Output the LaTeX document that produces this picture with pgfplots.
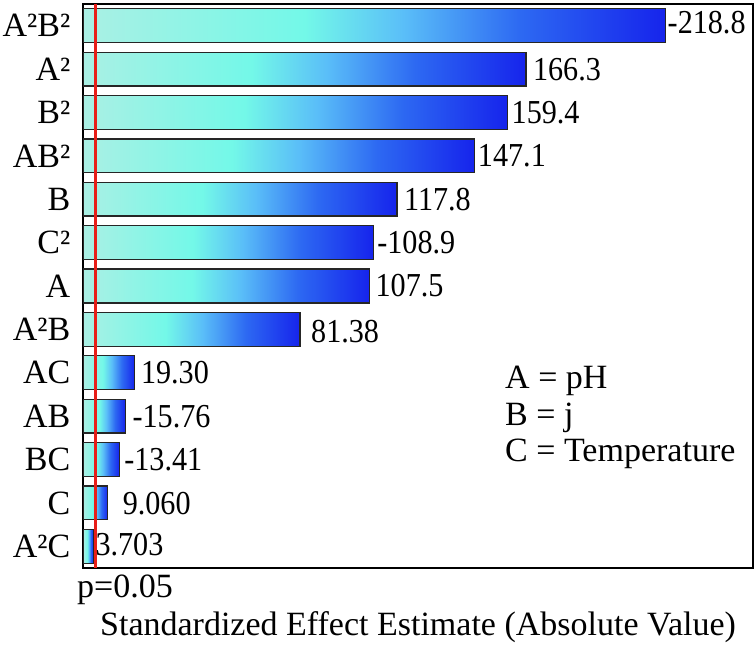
\documentclass[border=0pt]{standalone}
\usepackage{fontspec}
\setmainfont{Liberation Serif}
\newfontfamily\numfont[FakeStretch=0.9]{Liberation Serif}
\usepackage{pgfplots}
\pgfplotsset{compat=1.18}
\definecolor{g0}{RGB}{170,240,228}
\definecolor{g1}{RGB}{115,248,232}
\definecolor{g2}{RGB}{90,190,248}
\definecolor{g3}{RGB}{45,105,242}
\definecolor{g4}{RGB}{22,36,236}
\definecolor{pred}{RGB}{232,30,24}
\pgfdeclarehorizontalshading{barshade}{100bp}{color(0bp)=(g0); color(25bp)=(g0); color(44bp)=(g1); color(52.5bp)=(g2); color(62.5bp)=(g3); color(75bp)=(g4); color(100bp)=(g4)}
\pgfplotsset{mybar/.style={xbar, bar width=0.78, bar shift=0pt, draw=black!85, line width=1.3pt, shading=barshade}}
\tikzset{lab/.style={anchor=base west, inner sep=0pt, font=\fontsize{34}{40}\selectfont},
 num/.style={anchor=base west, inner sep=0pt, font=\numfont\fontsize{33.5}{38}\selectfont}}
\begin{document}
\begin{tikzpicture}
\begin{axis}[
 at={(0pt,0pt)}, anchor=south west,
 scale only axis, width=669pt, height=564pt,
 xmin=0, xmax=251.5, ymin=-0.5, ymax=12.5,
 xtick=\empty,
 ytick={0,...,12},
 yticklabels={A²C,C,BC,AB,AC,A²B,A,C²,B,AB²,B²,A²,A²B²},
 major tick length=0pt,
 axis line style={line width=2pt},
 tick label style={font=\fontsize{34}{40}\selectfont},
 yticklabel style={inner sep=0pt, xshift=-13pt},
 clip=false,
]
\addplot[mybar] coordinates {(218.8,12)};
\addplot[mybar] coordinates {(166.3,11)};
\addplot[mybar] coordinates {(159.4,10)};
\addplot[mybar] coordinates {(147.1,9)};
\addplot[mybar] coordinates {(117.8,8)};
\addplot[mybar] coordinates {(108.9,7)};
\addplot[mybar] coordinates {(107.5,6)};
\addplot[mybar] coordinates {(81.38,5)};
\addplot[mybar] coordinates {(19.30,4)};
\addplot[mybar] coordinates {(15.76,3)};
\addplot[mybar] coordinates {(13.41,2)};
\addplot[mybar] coordinates {(9.060,1)};
\addplot[mybar] coordinates {(3.703,0)};
\addplot[pred, line width=3pt, no marks] coordinates {(4.33,-0.5) (4.33,12.5)};
\node[num, xshift=2pt, yshift=-8pt] at (axis cs:218.8,12) {-218.8};
\node[num, xshift=7pt, yshift=-11pt] at (axis cs:166.3,11) {166.3};
\node[num, xshift=4pt, yshift=-11pt] at (axis cs:159.4,10) {159.4};
\node[num, xshift=3pt, yshift=-11pt] at (axis cs:147.1,9) {147.1};
\node[num, xshift=7pt, yshift=-11pt] at (axis cs:117.8,8) {117.8};
\node[num, xshift=4pt, yshift=-11pt] at (axis cs:108.9,7) {-108.9};
\node[num, xshift=6pt, yshift=-11pt] at (axis cs:107.5,6) {107.5};
\node[num, xshift=11pt, yshift=-13.5pt] at (axis cs:81.38,5) {81.38};
\node[num, xshift=6pt, yshift=-11pt] at (axis cs:19.30,4) {19.30};
\node[num, xshift=7pt, yshift=-11pt] at (axis cs:15.76,3) {-15.76};
\node[num, xshift=5pt, yshift=-11pt] at (axis cs:13.41,2) {-13.41};
\node[num, xshift=15pt, yshift=-12pt] at (axis cs:9.060,1) {9.060};
\node[num, xshift=2pt, yshift=-9pt] at (axis cs:3.703,0) {3.703};
\end{axis}
\node[lab] at (-6.5pt,-30pt) {p=0.05};
\node[lab, anchor=base] at (334.5pt,-67pt) {Standardized Effect Estimate (Absolute Value)};
\node[lab] at (421.5pt,179pt) {A = pH};
\node[lab] at (421.5pt,142pt) {B = j};
\node[lab] at (421.5pt,106pt) {C = Temperature};
\pgfresetboundingbox
\path[use as bounding box] (-83.5pt,-77pt) rectangle (671.5pt,568pt);
\end{tikzpicture}
\end{document}
